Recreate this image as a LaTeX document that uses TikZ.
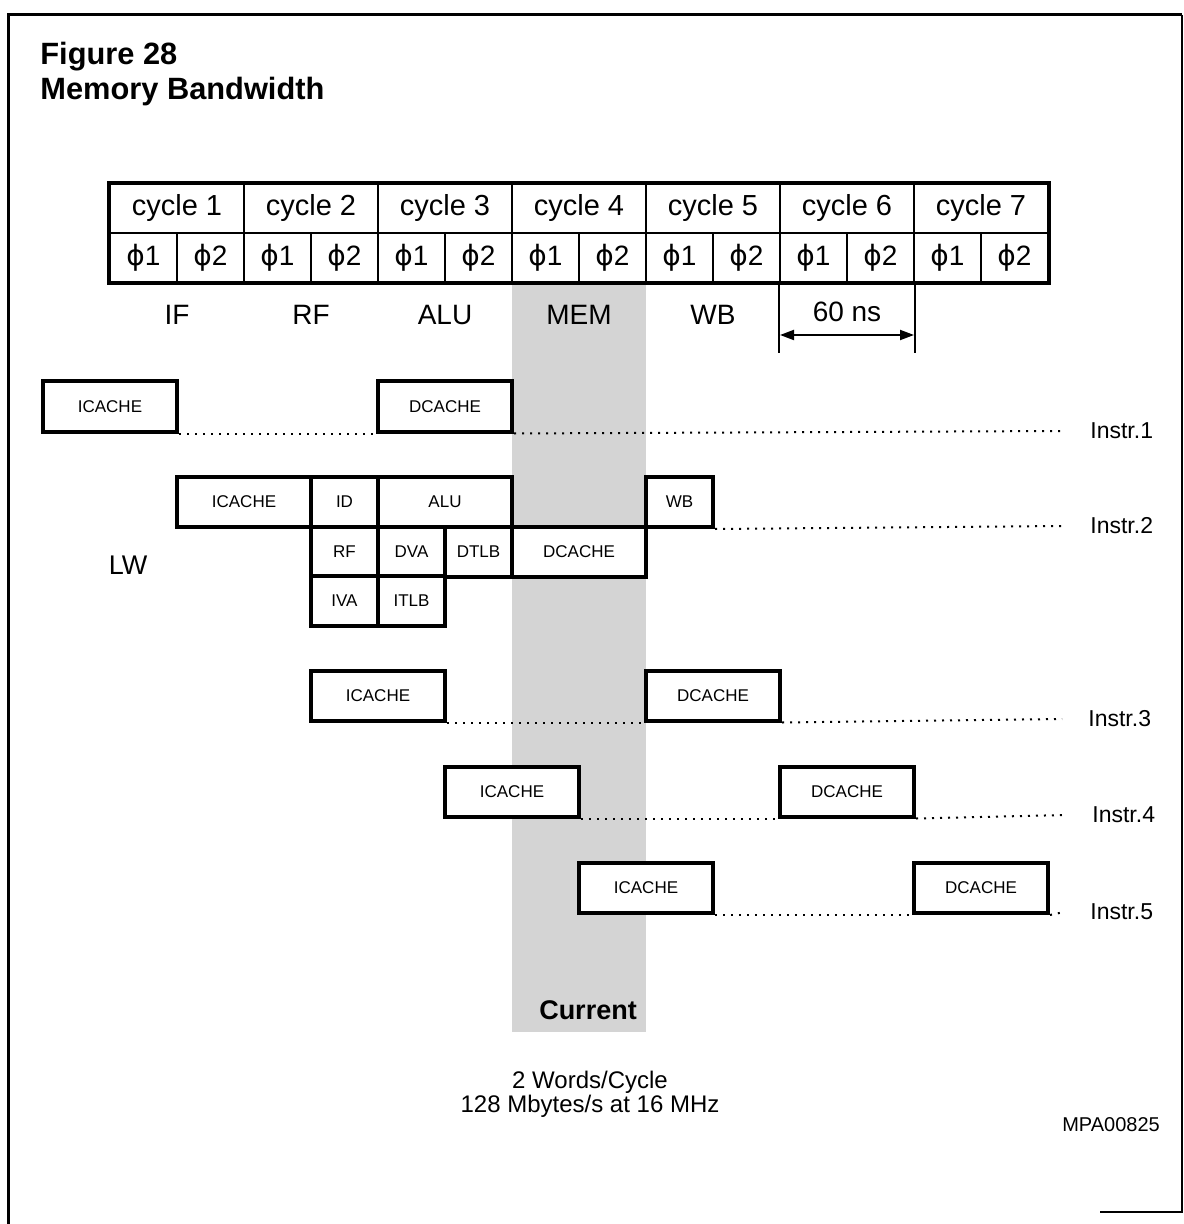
\documentclass[tikz,border=0pt]{standalone}
\usepackage{fontspec}
\setmainfont{Liberation Sans}
\newfontfamily\phasefont{DejaVu Sans}
\usetikzlibrary{positioning,arrows.meta}

\begin{document}
\begin{tikzpicture}[x=0.5pt, y=-0.5pt,
    cachebox/.style={draw, fill=white, rectangle, line width=2pt, minimum height=25pt, minimum width=67pt, inner sep=0pt, font=\fontsize{8.5}{10}\selectfont},
    halfbox/.style={cachebox, minimum width=33.5pt},
    cyc/.style={draw, rectangle, line width=1pt, minimum height=24.5pt, minimum width=67pt, inner sep=0pt, font=\fontsize{14.5}{16}\selectfont},
    phase/.style={cyc, minimum width=33.5pt, font=\fontsize{14}{16}\selectfont},
    stage/.style={font=\fontsize{14}{16}\selectfont},
    instr/.style={anchor=west, inner sep=0pt, font=\fontsize{11.5}{13}\selectfont},
    trail/.style={line width=1pt, dash pattern=on 1pt off 3pt}]
    \useasboundingbox (0,0) rectangle (1183,1224);

    % MEM column
    \fill[black!17] (512,282) rectangle (646,1032);

    % frame
    \draw[line width=1.5pt] (8,1224) -- (8,15) -- (1182,15);
    \draw[line width=0.8pt] (1182,15) -- (1182,1212) -- (1100,1212);

    \node[anchor=base west, inner sep=0pt, font=\bfseries\fontsize{15.4}{18}\selectfont] (fig) at (40,65) {Figure 28};
    \node[anchor=base west, inner sep=0pt, font=\bfseries\fontsize{15.4}{18}\selectfont] (title) at (40,100) {Memory Bandwidth};

    % cycles
    \node [cyc] (cyc1) at (177,208.5) {cycle 1};
    \node [cyc] (cyc2) at (311,208.5) {cycle 2};
    \node [cyc] (cyc3) at (445,208.5) {cycle 3};
    \node [cyc] (cyc4) at (579,208.5) {cycle 4};
    \node [cyc] (cyc5) at (713,208.5) {cycle 5};
    \node [cyc] (cyc6) at (847,208.5) {cycle 6};
    \node [cyc] (cyc7) at (981,208.5) {cycle 7};

    \node [phase] (ph1) at (143.5,257.5) {{\phasefont ϕ}1};
    \node [phase] (ph2) at (210.5,257.5) {{\phasefont ϕ}2};
    \node [phase] (ph3) at (277.5,257.5) {{\phasefont ϕ}1};
    \node [phase] (ph4) at (344.5,257.5) {{\phasefont ϕ}2};
    \node [phase] (ph5) at (411.5,257.5) {{\phasefont ϕ}1};
    \node [phase] (ph6) at (478.5,257.5) {{\phasefont ϕ}2};
    \node [phase] (ph7) at (545.5,257.5) {{\phasefont ϕ}1};
    \node [phase] (ph8) at (612.5,257.5) {{\phasefont ϕ}2};
    \node [phase] (ph9) at (679.5,257.5) {{\phasefont ϕ}1};
    \node [phase] (ph10) at (746.5,257.5) {{\phasefont ϕ}2};
    \node [phase] (ph11) at (813.5,257.5) {{\phasefont ϕ}1};
    \node [phase] (ph12) at (880.5,257.5) {{\phasefont ϕ}2};
    \node [phase] (ph13) at (947.5,257.5) {{\phasefont ϕ}1};
    \node [phase] (ph14) at (1014.5,257.5) {{\phasefont ϕ}2};
    \draw [line width=1.8pt] (cyc1.north west) rectangle (ph14.south east);

    % stages
    \node [stage] (IF) at (177,315) {IF};
    \node [stage] (RF) at (311,315) {RF};
    \node [stage] (ALU) at (445,315) {ALU};
    \node [stage] (MEM) at (579,315) {MEM};
    \node [stage] (WB) at (713,315) {WB};
    \node [stage] (ns) at (847,312) {60 ns};

    \draw [line width=1pt] (ph11.south west) -- ++(0,70);
    \draw [line width=1pt] (ph12.south east) -- ++(0,70);
    \coordinate (nsL) at (780,335);
    \coordinate (nsR) at (914,335);
    \draw [{Triangle[length=7pt,width=5pt]}-{Triangle[length=7pt,width=5pt]}, line width=1pt] (nsL) -- (nsR);

    % instr 1
    \node [cachebox] (ic1) at (110,406.5) {ICACHE};
    \node [cachebox] (dc1) at (445,406.5) {DCACHE};

    % instr 2 (LW)
    \node [cachebox] (ic2) at (244,502) {ICACHE};
    \node [halfbox] (id2) at (344.5,502) {ID};
    \node [cachebox] (alu2) at (445,502) {ALU};
    \node [halfbox] (wb2) at (679.5,502) {WB};
    \node [halfbox] (rf2) at (344.5,551.5) {RF};
    \node [halfbox] (dva2) at (411.5,551.5) {DVA};
    \node [halfbox] (dtlb2) at (478.5,551.5) {DTLB};
    \node [cachebox] (dc2) at (579,551.5) {DCACHE};
    \node [halfbox] (iva2) at (344.5,600.5) {IVA};
    \node [halfbox] (itlb2) at (411.5,600.5) {ITLB};
    \node [font=\fontsize{13.5}{16}\selectfont] (LW) at (128,565) {LW};

    % instr 3..5
    \node [cachebox] (ic3) at (378,695.5) {ICACHE};
    \node [cachebox] (dc3) at (713,695.5) {DCACHE};
    \node [cachebox] (ic4) at (512,791.5) {ICACHE};
    \node [cachebox] (dc4) at (847,791.5) {DCACHE};
    \node [cachebox] (ic5) at (646,888) {ICACHE};
    \node [cachebox] (dc5) at (981,888) {DCACHE};

    \node [instr] (in1) at (1090,431) {Instr.1};
    \node [instr] (in2) at (1090,526) {Instr.2};
    \node [instr] (in3) at (1088,719) {Instr.3};
    \node [instr] (in4) at (1092,815) {Instr.4};
    \node [instr] (in5) at (1090,912) {Instr.5};

    \draw [trail] (ic1.south east) -- (dc1.south west);
    \draw [trail] (dc1.south east) -- ([xshift=-13pt]in1.west);
    \draw [trail] (wb2.south east) -- ([xshift=-13pt]in2.west);
    \draw [trail] (ic3.south east) -- (dc3.south west);
    \draw [trail] (dc3.south east) -- ([xshift=-13pt]in3.west);
    \draw [trail] (ic4.south east) -- (dc4.south west);
    \draw [trail] (dc4.south east) -- ([xshift=-13pt]in4.west);
    \draw [trail] (ic5.south east) -- (dc5.south west);
    \draw [trail] (dc5.south east) -- ([xshift=-13pt]in5.west);

    \node [font=\bfseries\fontsize{13.5}{16}\selectfont] (cur) at (588,1010) {Current};
    \node [align=center, font=\fontsize{12}{11}\selectfont] (rate) at (590,1094) {2 Words/Cycle\\128 Mbytes/s at 16 MHz};
    \node [font=\fontsize{10}{12}\selectfont] (code) at (1111,1125) {MPA00825};
\end{tikzpicture}
\end{document}
